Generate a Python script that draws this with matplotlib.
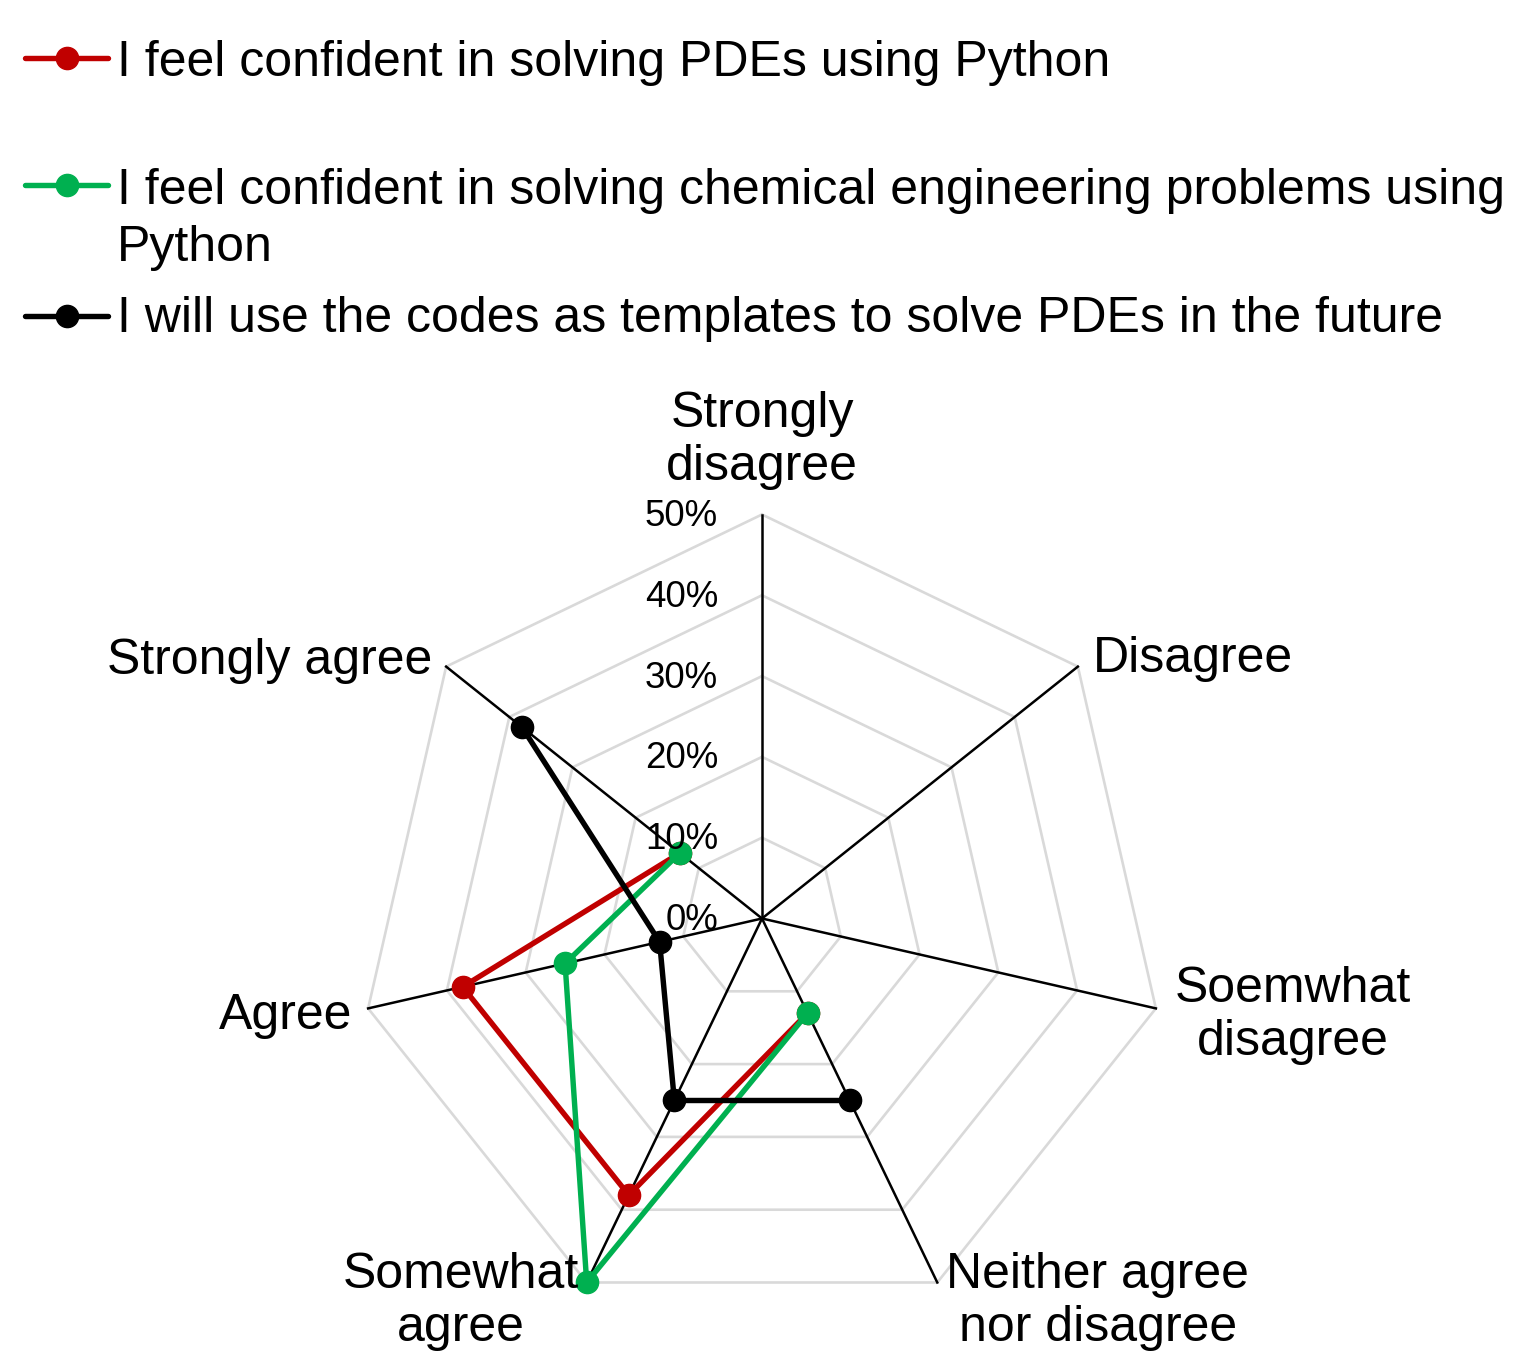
import numpy as np
import matplotlib
matplotlib.use("Agg")
import matplotlib.pyplot as plt
from matplotlib.lines import Line2D

plt.rcParams['font.family'] = ['Liberation Sans', 'DejaVu Sans']

categories = ["Strongly\ndisagree", "Disagree", "Soemwhat\ndisagree",
              "Neither agree\nnor disagree", "Somewhat\nagree", "Agree", "Strongly agree"]
series_names = ["I feel confident in solving PDEs using Python",
                "I feel confident in solving chemical engineering problems using\nPython",
                "I will use the codes as templates to solve PDEs in the future"]
nan = np.nan
pdes_python = [nan, nan, nan, 13, 38, 38, 13]
cheme_python = [nan, nan, nan, 13, 50, 25, 13]
templates = [nan, nan, nan, 25, 25, 13, 38]
series_values = [pdes_python, cheme_python, templates]
colors = ["#C00000", "#00B050", "#000000"]
ring_values = [0, 10, 20, 30, 40, 50]
ring_labels = ["0%", "10%", "20%", "30%", "40%", "50%"]

W, H = 1523, 1371
fig = plt.figure(figsize=(W / 100, H / 100), dpi=100)
cx, cy, R = 762, 918.5, 404
ax = fig.add_axes([(cx - R) / W, (H - cy - R) / H, 2 * R / W, 2 * R / H], projection='polar')
ax.set_theta_zero_location('N')
ax.set_theta_direction(-1)
ax.set_ylim(0, 50)
ax.grid(False)
ax.spines['polar'].set_visible(False)
ax.set_xticks([])
ax.set_yticks([])
ax.patch.set_alpha(0)

n = len(categories)
angles = np.arange(n) * 2 * np.pi / n
closed = np.append(angles, angles[0])

# heptagon grid
for r in ring_values[1:]:
    ax.plot(closed, [r] * (n + 1), color="#D9D9D9", lw=1.9, zorder=1, clip_on=False)
# spokes
for a in angles:
    ax.plot([a, a], [0, 50], color="black", lw=1.8, zorder=2, clip_on=False)

# series
for vals, col in zip(series_values, colors):
    ax.plot(angles, vals, color=col, lw=3.9, marker='o', ms=16, zorder=3, clip_on=False)

# ring labels
for r, lab in zip(ring_values, ring_labels):
    ax.annotate(lab, xy=(0, r), xytext=(-44, -2), textcoords='offset pixels',
                ha='right', va='center', fontsize=26.5, zorder=4)

# category labels
offsets = [(0, 74, 'center'), (15, 8, 'left'), (19, -7, 'left'), (9, -19, 'left'),
           (-8, -19, 'right'), (-16, -8, 'right'), (-14, 6, 'right')]
for a, lab, (dx, dy, ha) in zip(angles, categories, offsets):
    ax.annotate(lab, xy=(a, 50), xytext=(dx, dy), textcoords='offset pixels',
                ha=ha, va='center', multialignment='center', fontsize=36,
                linespacing=1.2, annotation_clip=False)

# legend (manual)
leg_y = [58, 185, 316]
base_y = [76, 261, 332]
for y, by, name, col in zip(leg_y, base_y, series_names, colors):
    fy = (H - y) / H
    fig.add_artist(Line2D([25 / W, 108 / W], [fy, fy], color=col, lw=3.9,
                          solid_capstyle='round', transform=fig.transFigure))
    fig.add_artist(Line2D([67 / W], [fy], color=col, marker='o', ms=16, lw=0,
                          transform=fig.transFigure))
    fig.text(117 / W, (H - by) / H, name, ha='left', va='baseline', fontsize=36,
             linespacing=1.3)

fig.savefig("out.png", dpi=100)
